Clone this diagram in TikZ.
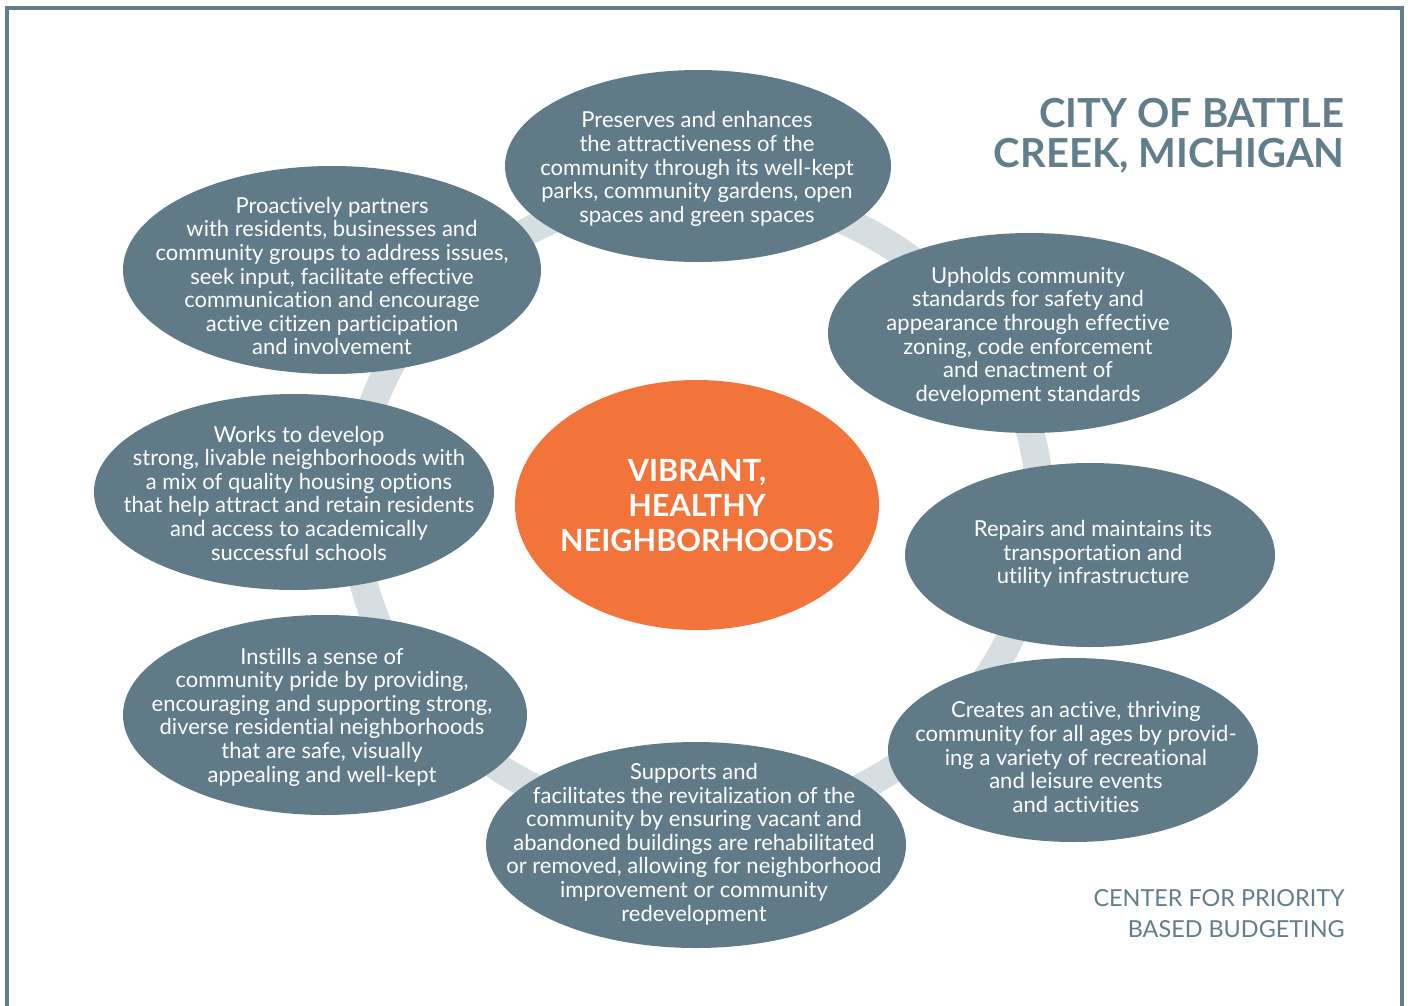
\documentclass[tikz,border=0pt]{standalone}
\usepackage{fontspec}
\setmainfont{Lato}[Ligatures=NoCommon]
\usetikzlibrary{shapes.geometric}
\definecolor{slate}{RGB}{96,122,135}
\definecolor{ringgray}{RGB}{214,222,225}
\definecolor{framec}{RGB}{98,126,140}
\definecolor{orangec}{RGB}{242,116,58}
\tikzset{
  bubble/.style={ellipse, fill=slate, draw=none, inner sep=0pt},
  btext/.style={text=white, align=center, inner sep=0pt, font=\fontsize{11}{11.8}\selectfont},
}
\begin{document}
\begin{tikzpicture}[x=0.5pt,y=-0.5pt]
\useasboundingbox (0,0) rectangle (1408,1006);
\fill[white] (0,0) rectangle (1408,1006);
% frame
\draw[framec, line width=2pt] (7,1010) -- (7,8) -- (1402,8) -- (1402,1010);
% ring
\draw[ringgray, line width=14pt] (697,508) ellipse [x radius=343, y radius=318];
% bubbles
\node[bubble, minimum width=193pt, minimum height=96pt] (e1) at (698,166) {};
\node[bubble, minimum width=202pt, minimum height=100pt] (e2) at (1030,333) {};
\node[bubble, minimum width=185pt, minimum height=92pt] (e3) at (1090,555) {};
\node[bubble, minimum width=185pt, minimum height=92pt] (e4) at (1073,750) {};
\node[bubble, minimum width=210pt, minimum height=103pt] (e5) at (696,845) {};
\node[bubble, minimum width=202pt, minimum height=100pt] (e6) at (325,715) {};
\node[bubble, minimum width=200pt, minimum height=98pt] (e7) at (294,492) {};
\node[bubble, minimum width=209pt, minimum height=104pt] (e8) at (332,270) {};
\node[ellipse, fill=orangec, inner sep=0pt, minimum width=182pt, minimum height=125pt] (c) at (697,505) {};
% texts
\node[btext] (t1) at (697,169) {Preserves and enhances\\the attractiveness of the\\community through its well-kept\\parks, community gardens, open\\spaces and green spaces};
\node[btext] (t2) at (1028,336) {Upholds community\\standards for safety and\\appearance through effective\\zoning, code enforcement\\and enactment of\\development standards};
\node[btext] (t3) at (1093,554) {Repairs and maintains its\\transportation and\\utility infrastructure};
\node[btext] (t4) at (1076,757) {Creates an active, thriving\\community for all ages by provid-\\ing a variety of recreational\\and leisure events\\and activities};
\node[btext] (t5) at (694,844) {Supports and\\facilitates the revitalization of the\\community by ensuring vacant and\\abandoned buildings are rehabilitated\\or removed, allowing for neighborhood\\improvement or community\\redevelopment};
\node[btext] (t6) at (322,717) {Instills a sense of\\community pride by providing,\\encouraging and supporting strong,\\diverse residential neighborhoods\\that are safe, visually\\appealing and well-kept};
\node[btext] (t7) at (299,493) {Works to develop\\strong, livable neighborhoods with\\a mix of quality housing options\\that help attract and retain residents\\and access to academically\\successful schools};
\node[btext] (t8) at (332,276) {Proactively partners\\with residents, businesses and\\community groups to address issues,\\seek input, facilitate effective\\communication and encourage\\active citizen participation\\and involvement};
\node[text=white, align=center, inner sep=0pt, font=\bfseries\fontsize{15.3}{17.5}\selectfont] (ct) at (697,506) {VIBRANT,\\HEALTHY\\NEIGHBORHOODS};
% titles
\node[text=framec, align=right, anchor=east, inner sep=0pt, font=\bfseries\fontsize{20}{20}\selectfont] (title) at (1345,136) {CITY OF BATTLE\\CREEK, MICHIGAN};
\node[text=framec, align=right, anchor=east, inner sep=0pt, font=\fontsize{11.7}{15.5}\selectfont] (credit) at (1345,914) {CENTER FOR PRIORITY\\BASED BUDGETING};
\end{tikzpicture}
\end{document}
